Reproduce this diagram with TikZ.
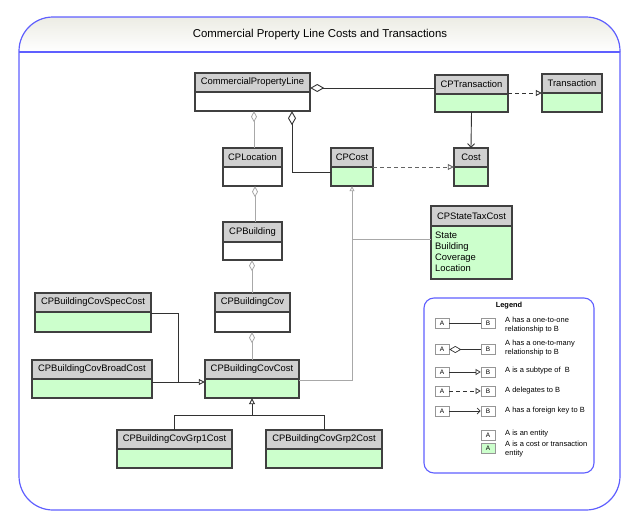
\documentclass[tikz,border=0pt]{standalone}
\usepackage{fontspec}
\setmainfont{Liberation Sans}
\usetikzlibrary{fit,arrows.meta,calc}
\definecolor{bordc}{RGB}{64,64,64}
\definecolor{hdrc}{RGB}{208,208,208}
\definecolor{grnc}{RGB}{204,255,204}
\definecolor{framec}{RGB}{95,95,255}
\definecolor{grayln}{RGB}{168,168,168}
\definecolor{darkln}{RGB}{50,50,50}
\definecolor{dashg}{RGB}{100,100,100}
\definecolor{lboxc}{RGB}{150,150,150}
\definecolor{headtop}{RGB}{236,236,228}
\newcommand\boxfont{\fontsize{9.4}{10.5}\selectfont}
\newcommand\legfont{\fontsize{7.5}{8.6}\selectfont}
\newcommand\ent[8]{%
  \node[hdrbox, fit={(#2,#3) (#4,#5)}] (#1h) {};
  \node[bodybox, fill=#7, fit={(#2,#5) (#4,#6)}] (#1b) {};
  \node[wholebox, fit={(#2,#3) (#4,#6)}] (#1) {};
  \node[hdrtext] (#1l) at (#1h.center) {#8};
}
\begin{document}
\begin{tikzpicture}[x=1pt,y=-1pt,
  hdrbox/.style={draw=bordc, fill=hdrc, line width=1.1pt, inner sep=0pt},
  hdrtext/.style={inner sep=0pt, font=\boxfont},
  bodybox/.style={draw=bordc, line width=1.1pt, inner sep=0pt},
  wholebox/.style={draw=none, inner sep=0pt},
  grline/.style={draw=grayln, line width=0.8pt},
  dkline/.style={draw=darkln, line width=0.9pt},
  agg/.style={{Diamond[open,fill=white,length=11pt,width=6pt]}-},
  aggbig/.style={{Diamond[open,fill=white,length=14pt,width=8pt]}-},
  subt/.style={-{Triangle[open,fill=white,length=6pt,width=6pt]}},
  fkey/.style={-{Straight Barb[length=3.5pt,width=7pt]}},
  lbox/.style={draw=lboxc, fill=white, line width=0.6pt, minimum width=14pt, minimum height=10pt, inner sep=0pt, font=\fontsize{6.5}{7}\selectfont},
  legtext/.style={anchor=west, align=left, inner sep=0pt, font=\legfont},
  attr/.style={anchor=base west, inner sep=0pt, font=\boxfont}
]
\useasboundingbox (0,0) rectangle (641,525);
% frame
\fill[top color=headtop, bottom color=white] (19,52) [rounded corners=34pt]-- (19,17) -- (620,17) [sharp corners]-- (620,52) -- cycle;
\draw[framec, line width=1.2pt, rounded corners=34pt] (19,17) rectangle (620,510);
\draw[framec, line width=1.2pt] (19,52) -- (620,52);
\node[font=\fontsize{11.4}{13}\selectfont, inner sep=0pt] (title) at (320,35) {Commercial Property Line Costs and Transactions};

% entities
\ent{cpl}{195}{73}{310}{92}{111}{white}{CommercialPropertyLine}
\ent{cpt}{435}{75}{508}{94}{112}{grnc}{CPTransaction}
\ent{trans}{542}{74}{602}{93}{112}{grnc}{Transaction}
\ent{cploc}{223}{148}{282}{167}{186}{white}{CPLocation}
\ent{cpcost}{331}{148}{373}{167}{186}{grnc}{CPCost}
\ent{cost}{454}{148}{488}{167}{186}{grnc}{Cost}
\ent{cpst}{431}{206}{512}{226}{279}{grnc}{CPStateTaxCost}
\ent{cpbld}{223}{222}{282}{242}{260}{white}{CPBuilding}
\ent{cpbc}{215}{293}{290}{312}{332}{white}{CPBuildingCov}
\ent{spec}{35}{293}{151}{312}{332}{grnc}{CPBuildingCovSpecCost}
\ent{broad}{32}{360}{152}{379}{398}{grnc}{CPBuildingCovBroadCost}
\ent{cpbcc}{205}{360}{299}{379}{398}{grnc}{CPBuildingCovCost}
\ent{grpa}{117}{430}{232}{449}{468}{grnc}{CPBuildingCovGrp1Cost}
\ent{grpb}{266}{430}{382}{449}{468}{grnc}{CPBuildingCovGrp2Cost}

\node[attr] (st1) at (435,238.5) {State};
\node[attr] (st2) at (435,249.6) {Building};
\node[attr] (st3) at (435,260.7) {Coverage};
\node[attr] (st4) at (435,271.8) {Location};

% connectors
\draw[dkline, aggbig] (cpl.east |- 0,88) -- (cpt.west |- 0,88);
\draw[grline, agg] (cpl.south -| 254,0) -- (cploc.north -| 254,0);
\draw[dkline, aggbig] (cpl.south -| 292,0) |- (cpcost.west |- 0,172);
\draw[dkline, fkey] (cpt.south) -- (cost.north);
\draw[dkline, dash pattern=on 4pt off 3pt, subt] (cpt.east |- 0,93) -- (trans.west |- 0,93);
\draw[dashg, line width=0.9pt, dash pattern=on 4pt off 3pt, subt] (cpcost.east |- 0,167) -- (cost.west |- 0,167);
\draw[grline, agg] (cploc.south -| 255,0) -- (cpbld.north -| 255,0);
\draw[grline, agg] (cpbld.south -| 252,0) -- (cpbc.north -| 252,0);
\draw[grline, agg] (cpbc.south -| 252,0) -- (cpbcc.north -| 252,0);
\draw[grline, -{Triangle[open,fill=white,length=5pt,width=5pt]}] (cpbcc.east |- 0,380) -| (cpcost.south);
\draw[grline] (cpst.west |- 0,239) -- (cpcost.south |- 0,239);
\coordinate (jspec) at (178,382);
\draw[dkline] (spec.east |- 0,313) -| (jspec);
\draw[dkline, subt] (broad.east |- 0,382) -- (cpbcc.west |- 0,382);
\draw[dkline] (grpa.north) -- (grpa.north |- 0,415) -- (grpb.north |- 0,415) -- (grpb.north);
\draw[dkline, subt] (cpbcc.south |- 0,415) -- (cpbcc.south);

% legend
\draw[framec, line width=1.1pt, rounded corners=10pt] (424,298) rectangle (594,473);
\node[font=\bfseries\fontsize{7.4}{8}\selectfont, inner sep=0pt] (legt) at (509,306) {Legend};
\node[lbox] (la1) at (442,323) {A}; \node[lbox] (lb1) at (488,323) {B};
\node[lbox] (la2) at (442,349.5) {A}; \node[lbox] (lb2) at (488,349.5) {B};
\node[lbox] (la3) at (442,372) {A}; \node[lbox] (lb3) at (488,372) {B};
\node[lbox] (la4) at (442,391) {A}; \node[lbox] (lb4) at (488,391) {B};
\node[lbox] (la5) at (442,411) {A}; \node[lbox] (lb5) at (488,411) {B};
\node[lbox] (la6) at (488,435) {A};
\node[lbox, fill=grnc] (la7) at (488,448) {A};
\draw[darkln, line width=0.7pt] (la1) -- (lb1);
\draw[darkln, line width=0.7pt, {Diamond[open,fill=white,length=12pt,width=7pt]}-] (la2) -- (lb2);
\draw[darkln, line width=0.7pt, -{Triangle[open,fill=white,length=5pt,width=6pt]}] (la3) -- (lb3);
\draw[darkln, line width=0.7pt, dash pattern=on 4pt off 3pt, -{Triangle[open,fill=white,length=5pt,width=6pt]}] (la4) -- (lb4);
\draw[darkln, line width=0.7pt, -{Straight Barb[length=3pt,width=6pt]}] (la5) -- (lb5);
\node[legtext] (lt1) at (505,325) {A has a one-to-one\\relationship to B};
\node[legtext] (lt2) at (505,348) {A has a one-to-many\\relationship to B};
\node[legtext] (lt3) at (505,371) {A is a subtype of\ \ B};
\node[legtext] (lt4) at (505,390.5) {A delegates to B};
\node[legtext] (lt5) at (505,410.5) {A has a foreign key to B};
\node[legtext] (lt6) at (505,434) {A is an entity};
\node[legtext] (lt7) at (505,449) {A is a cost or transaction\\entity};
\end{tikzpicture}
\end{document}
